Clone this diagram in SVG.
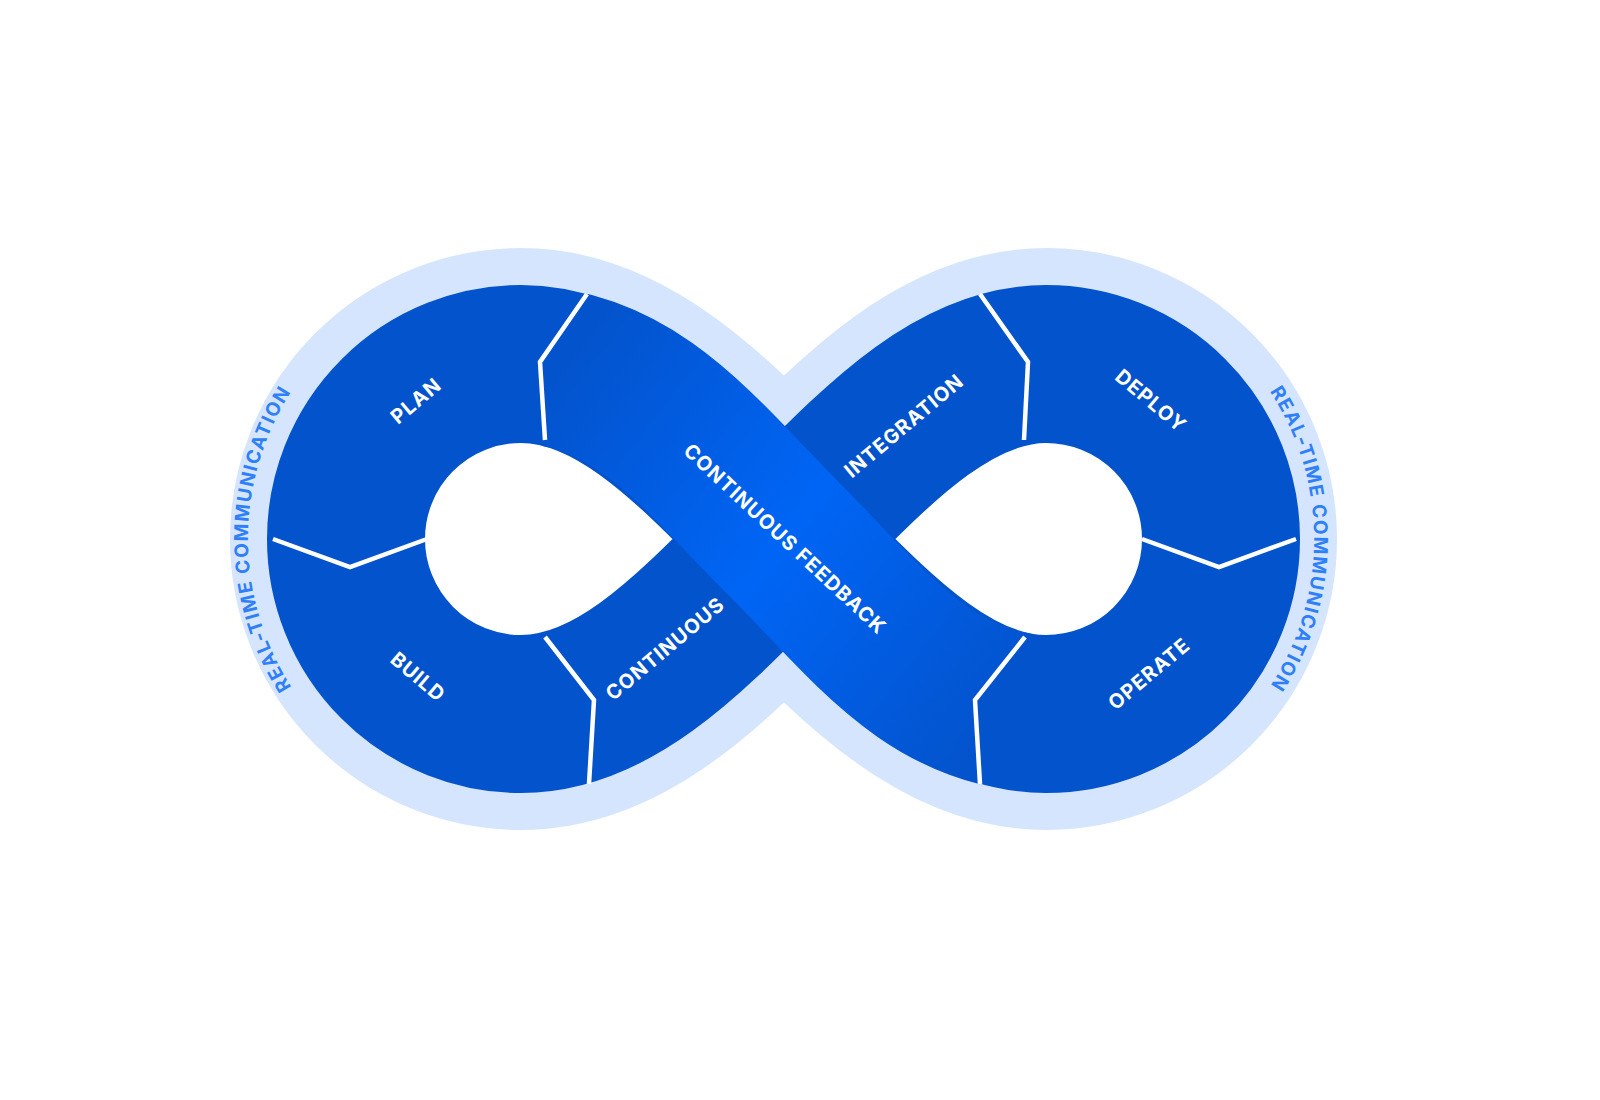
<svg xmlns="http://www.w3.org/2000/svg" width="1600" height="1100" viewBox="0 0 1600 1100">
<style>
.lbl{font-family:"Inter","Liberation Sans",sans-serif;font-weight:700;font-size:20px;fill:#fff;letter-spacing:1px;text-anchor:middle;dominant-baseline:middle}
.ring{font-family:"Inter","Liberation Sans",sans-serif;font-weight:700;font-size:19px;fill:#2f80f8;letter-spacing:1.5px}
.sep{fill:none;stroke:#fff;stroke-width:4.5;stroke-linejoin:miter}
</style>
<defs>
<linearGradient id="g" x1="560" y1="366" x2="1008" y2="712" gradientUnits="userSpaceOnUse">
<stop offset="0" stop-color="#0353cc"/><stop offset="0.5" stop-color="#0065f5"/><stop offset="1" stop-color="#0353cc"/>
</linearGradient>
<clipPath id="cp"><polygon points="587,150 1100,150 1100,600 1025,637 975,700 980,784 980,900 450,900 450,600 545,440 540,362 587,294"/></clipPath>
<path id="fig" d="M784,539 C700,455 620,364 521,364 A175,175 0 0 0 521,714 C620,714 700,623 784,539 C868,455 948,364 1046,364 A175,175 0 0 1 1046,714 C948,714 868,623 784,539 Z"/>
<path id="lp" d="M345.5,748.1 A273,273 0 0 1 345.5,329.9"/>
<path id="rp" d="M1218.3,333.7 A268,268 0 0 1 1218.3,744.3"/>
</defs>
<rect width="1600" height="1100" fill="#fff"/>
<g id="loop">
<use href="#fig" fill="none" stroke="#d4e5fd" stroke-width="232"/>
<use href="#fig" fill="#fff"/>
<use href="#fig" fill="none" stroke="#0353cc" stroke-width="158"/>
<path d="M525,364 C640,370 700,455 784,539 C868,623 928,710 1045,714" fill="none" stroke="url(#g)" stroke-width="158" clip-path="url(#cp)"/>
</g>
<g id="connectors">
<polyline class="sep" points="587,294 540,362 545,440"/>
<polyline class="sep" points="273,539 350,567 427,539"/>
<polyline class="sep" points="545,637 594,700 589,784"/>
<polyline class="sep" points="980,294 1028,362 1024,440"/>
<polyline class="sep" points="1142,539 1219,567 1296,539"/>
<polyline class="sep" points="1025,637 975,700 980,784"/>
</g>
<g id="plan"><text class="lbl" transform="translate(417,402) rotate(-40)">PLAN</text></g>
<g id="build"><text class="lbl" transform="translate(417,678) rotate(40)">BUILD</text></g>
<g id="continuous"><text class="lbl" transform="translate(666,650) rotate(-40)">CONTINUOUS</text></g>
<g id="integration"><text class="lbl" transform="translate(905,427) rotate(-40)">INTEGRATION</text></g>
<g id="feedback"><text class="lbl" transform="translate(784,540) rotate(43)">CONTINUOUS FEEDBACK</text></g>
<g id="deploy"><text class="lbl" transform="translate(1150,402) rotate(40)">DEPLOY</text></g>
<g id="operate"><text class="lbl" transform="translate(1150,675) rotate(-40)">OPERATE</text></g>
<g id="rtc-left"><text class="ring"><textPath href="#lp" startOffset="50%" text-anchor="middle">REAL-TIME COMMUNICATION</textPath></text></g>
<g id="rtc-right"><text class="ring"><textPath href="#rp" startOffset="50%" text-anchor="middle">REAL-TIME COMMUNICATION</textPath></text></g>
</svg>
